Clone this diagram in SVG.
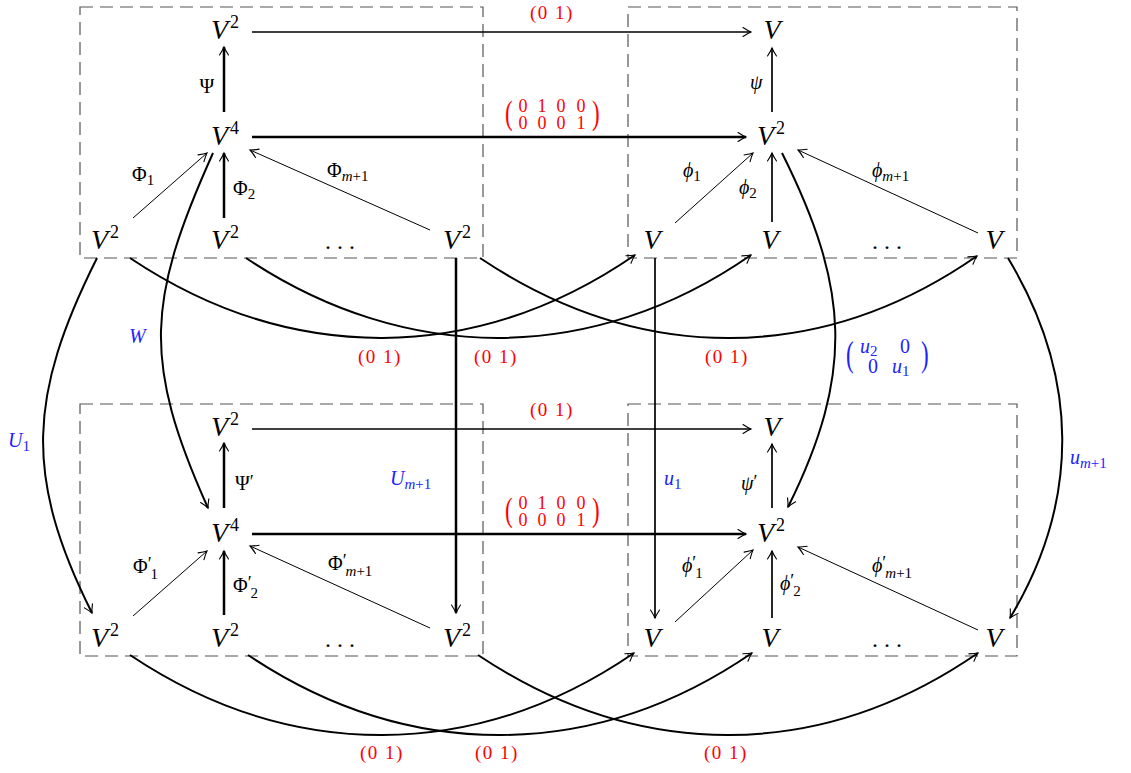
<svg xmlns="http://www.w3.org/2000/svg" width="1131" height="773" viewBox="0 0 1131 773">
<defs>
<style>
text{font-family:"Liberation Serif","Times New Roman",serif;fill:#000}
.n{font-size:28px;font-style:italic}
.s{font-size:18px;font-style:normal}
.d{font-size:24px}
.lb{font-size:20px}
.it{font-style:italic}
.up{font-style:normal}
.sb{font-size:15px}
.pr{font-size:18px;font-style:normal}
.r{fill:#f00;font-size:19px;letter-spacing:1.5px}
.rm{fill:#f00;font-size:18px}
.b{fill:#22f}
.b tspan{fill:#22f}
.r tspan,.rm tspan{fill:#f00}
.box{fill:none;stroke:#555;stroke-width:1.2;stroke-dasharray:13 7}
.c{fill:none;stroke:#000;marker-end:url(#ar)}
.t1{stroke-width:1}
.t2{stroke-width:1.7}
.t3{stroke-width:2.5}
.cv{stroke-width:2}
</style>
<marker id="ar" viewBox="-9 -6 11 12" refX="0" refY="0" markerWidth="11" markerHeight="12" markerUnits="userSpaceOnUse" orient="auto">
<path d="M-8,-4.5 Q-3,-1.2 0,0 Q-3,1.2 -8,4.5" fill="none" stroke="#000" stroke-width="1.1" stroke-linecap="round"/>
</marker>
</defs>
<rect width="1131" height="773" fill="#fff"/>
<g id="frames">
<rect class="box" x="80" y="7" width="403" height="251"/>
<rect class="box" x="628" y="7" width="389" height="251"/>
<rect class="box" x="80" y="404" width="403" height="252"/>
<rect class="box" x="628" y="404" width="389" height="252"/>
</g>
<g id="connectors">
<path class="c t2" d="M252,32 L751,32"/>
<path class="c t3" d="M252,137 L746,137"/>
<path class="c t3" d="M224,112 L224,47"/>
<path class="c t2" d="M772,112 L772,48"/>
<path class="c t1" d="M133,218 L207,153"/>
<path class="c t3" d="M224,218 L224,153"/>
<path class="c t1" d="M430,230 L250,150"/>
<path class="c t1" d="M675,223 L753,153"/>
<path class="c t2" d="M772,222 L772,153"/>
<path class="c t1" d="M978,233 L798,150"/>
<path class="c t2" d="M252,429 L751,429"/>
<path class="c t3" d="M252,534 L746,534"/>
<path class="c t3" d="M224,508 L224,443"/>
<path class="c t2" d="M772,508 L772,444"/>
<path class="c t1" d="M133,616 L207,551"/>
<path class="c t3" d="M224,615 L224,551"/>
<path class="c t1" d="M430,628 L250,546"/>
<path class="c t1" d="M675,622 L753,550"/>
<path class="c t2" d="M772,618 L772,551"/>
<path class="c t1" d="M978,630 L798,547"/>
<path class="c t3" d="M456,258 L456,613"/>
<path class="c t2" d="M655,258 L655,618"/>
<path class="c cv" d="M97,258 C28.5,395 23.5,476 92,613"/>
<path class="c cv" d="M213,153 C147,300 142,361 208,508"/>
<path class="c cv" d="M782,153 C849.5,288 854.5,373 788,507"/>
<path class="c cv" d="M1008,258 C1079,376 1081,500 1010,618"/>
<path class="c cv" d="M130,258 C290,365 475,365 635,255"/>
<path class="c cv" d="M246,258 C406,365 593,365 751,255"/>
<path class="c cv" d="M480,258 C640,365 820,365 977,256"/>
<path class="c cv" d="M130,655 C290,762 475,762 634,653"/>
<path class="c cv" d="M248,655 C408,762 593,762 752,653"/>
<path class="c cv" d="M478,655 C638,762 820,762 978,653"/>
</g>
<g id="labels">
<text class="r" x="552" y="19" text-anchor="middle">(0 1)</text>
<text class="r" x="552" y="416" text-anchor="middle">(0 1)</text>
<text class="r" x="380" y="363" text-anchor="middle">(0 1)</text>
<text class="r" x="496" y="363" text-anchor="middle">(0 1)</text>
<text class="r" x="727" y="363" text-anchor="middle">(0 1)</text>
<text class="r" x="382" y="759" text-anchor="middle">(0 1)</text>
<text class="r" x="497" y="759" text-anchor="middle">(0 1)</text>
<text class="r" x="726" y="759" text-anchor="middle">(0 1)</text>
<g id="m1">
<text class="rm" transform="translate(505,124) scale(1,1.45)" style="font-size:23px">(</text>
<text class="rm" transform="translate(592,124) scale(1,1.45)" style="font-size:23px">)</text>
<text class="rm" text-anchor="middle"><tspan x="523" y="112">0</tspan><tspan x="542" y="112">1</tspan><tspan x="561" y="112">0</tspan><tspan x="581" y="112">0</tspan><tspan x="523" y="129">0</tspan><tspan x="542" y="129">0</tspan><tspan x="561" y="129">0</tspan><tspan x="581" y="129">1</tspan></text>
</g>
<g id="m2">
<text class="rm" transform="translate(505,521) scale(1,1.45)" style="font-size:23px">(</text>
<text class="rm" transform="translate(592,521) scale(1,1.45)" style="font-size:23px">)</text>
<text class="rm" text-anchor="middle"><tspan x="523" y="509">0</tspan><tspan x="542" y="509">1</tspan><tspan x="561" y="509">0</tspan><tspan x="581" y="509">0</tspan><tspan x="523" y="526">0</tspan><tspan x="542" y="526">0</tspan><tspan x="561" y="526">0</tspan><tspan x="581" y="526">1</tspan></text>
</g>
<text class="lb it b" x="129" y="343">W</text>
<text class="lb it b" x="8" y="447">U<tspan class="sb up" dy="4">1</tspan></text>
<text class="lb it b" x="390" y="485">U<tspan class="sb" dy="4">m<tspan class="up">+1</tspan></tspan></text>
<text class="lb it b" x="664" y="485">u<tspan class="sb up" dy="4">1</tspan></text>
<text class="lb it b" x="1070" y="464">u<tspan class="sb" dy="4">m<tspan class="up">+1</tspan></tspan></text>
<g id="m3">
<text class="lb b" transform="translate(846,366) scale(1,1.55)" style="font-size:23px">(</text>
<text class="lb b" transform="translate(921,366) scale(1,1.55)" style="font-size:23px">)</text>
<text class="lb b"><tspan class="it" x="860" y="353">u</tspan><tspan class="sb" dy="3">2</tspan><tspan x="900" y="353">0</tspan><tspan x="868" y="373">0</tspan><tspan class="it" x="892" y="373">u</tspan><tspan class="sb" dy="3">1</tspan></text>
</g>
<text class="lb" x="207" y="93" text-anchor="middle">Ψ</text>
<text class="lb" x="132" y="181">Φ<tspan class="sb" dy="4">1</tspan></text>
<text class="lb" x="233" y="195">Φ<tspan class="sb" dy="4">2</tspan></text>
<text class="lb" x="327" y="177">Φ<tspan class="sb" dy="4"><tspan class="it">m</tspan>+1</tspan></text>
<text class="lb it" x="750" y="89">ψ</text>
<text class="lb it" x="683" y="177">ϕ<tspan class="sb up" dy="4">1</tspan></text>
<text class="lb it" x="739" y="194">ϕ<tspan class="sb up" dy="4">2</tspan></text>
<text class="lb it" x="872" y="177">ϕ<tspan class="sb" dy="4">m<tspan class="up">+1</tspan></tspan></text>
<text class="lb" x="235" y="490">Ψ<tspan class="pr" dy="-2">′</tspan></text>
<text class="lb" x="133" y="573">Φ<tspan class="pr" dy="-3">′</tspan><tspan class="sb" dx="-1" dy="9">1</tspan></text>
<text class="lb" x="233" y="592">Φ<tspan class="pr" dy="-3">′</tspan><tspan class="sb" dx="-1" dy="9">2</tspan></text>
<text class="lb" x="328" y="570">Φ<tspan class="pr" dy="-3">′</tspan><tspan class="sb" dx="-1" dy="9"><tspan class="it">m</tspan>+1</tspan></text>
<text class="lb it" x="741" y="490">ψ<tspan class="pr" dy="-2">′</tspan></text>
<text class="lb it" x="682" y="572">ϕ<tspan class="pr" dy="-3">′</tspan><tspan class="sb up" dx="-1" dy="9">1</tspan></text>
<text class="lb it" x="780" y="590">ϕ<tspan class="pr" dy="-3">′</tspan><tspan class="sb up" dx="-1" dy="9">2</tspan></text>
<text class="lb it" x="872" y="572">ϕ<tspan class="pr" dy="-3">′</tspan><tspan class="sb" dx="-1" dy="9">m<tspan class="up">+1</tspan></tspan></text>
</g>
<g id="tl-top"><text class="n" x="225" y="39" text-anchor="middle">V<tspan class="s" dx="2" dy="-11">2</tspan></text></g>
<g id="tl-mid"><text class="n" x="225" y="145" text-anchor="middle">V<tspan class="s" dx="2" dy="-11">4</tspan></text></g>
<g id="tl-b1"><text class="n" x="105" y="249" text-anchor="middle">V<tspan class="s" dx="2" dy="-11">2</tspan></text></g>
<g id="tl-b2"><text class="n" x="225" y="249" text-anchor="middle">V<tspan class="s" dx="2" dy="-11">2</tspan></text></g>
<g id="tl-dots"><text class="d" x="340" y="249" text-anchor="middle">. . .</text></g>
<g id="tl-b3"><text class="n" x="457" y="249" text-anchor="middle">V<tspan class="s" dx="2" dy="-11">2</tspan></text></g>
<g id="tr-top"><text class="n" x="772" y="39" text-anchor="middle">V</text></g>
<g id="tr-mid"><text class="n" x="771" y="145" text-anchor="middle">V<tspan class="s" dx="2" dy="-11">2</tspan></text></g>
<g id="tr-b1"><text class="n" x="652" y="249" text-anchor="middle">V</text></g>
<g id="tr-b2"><text class="n" x="770" y="249" text-anchor="middle">V</text></g>
<g id="tr-dots"><text class="d" x="887" y="249" text-anchor="middle">. . .</text></g>
<g id="tr-b3"><text class="n" x="994" y="249" text-anchor="middle">V</text></g>
<g id="bl-top"><text class="n" x="225" y="436" text-anchor="middle">V<tspan class="s" dx="2" dy="-11">2</tspan></text></g>
<g id="bl-mid"><text class="n" x="225" y="542" text-anchor="middle">V<tspan class="s" dx="2" dy="-11">4</tspan></text></g>
<g id="bl-b1"><text class="n" x="105" y="647" text-anchor="middle">V<tspan class="s" dx="2" dy="-11">2</tspan></text></g>
<g id="bl-b2"><text class="n" x="225" y="647" text-anchor="middle">V<tspan class="s" dx="2" dy="-11">2</tspan></text></g>
<g id="bl-dots"><text class="d" x="340" y="647" text-anchor="middle">. . .</text></g>
<g id="bl-b3"><text class="n" x="457" y="647" text-anchor="middle">V<tspan class="s" dx="2" dy="-11">2</tspan></text></g>
<g id="br-top"><text class="n" x="772" y="436" text-anchor="middle">V</text></g>
<g id="br-mid"><text class="n" x="771" y="542" text-anchor="middle">V<tspan class="s" dx="2" dy="-11">2</tspan></text></g>
<g id="br-b1"><text class="n" x="652" y="647" text-anchor="middle">V</text></g>
<g id="br-b2"><text class="n" x="770" y="647" text-anchor="middle">V</text></g>
<g id="br-dots"><text class="d" x="887" y="647" text-anchor="middle">. . .</text></g>
<g id="br-b3"><text class="n" x="994" y="647" text-anchor="middle">V</text></g>
</svg>
